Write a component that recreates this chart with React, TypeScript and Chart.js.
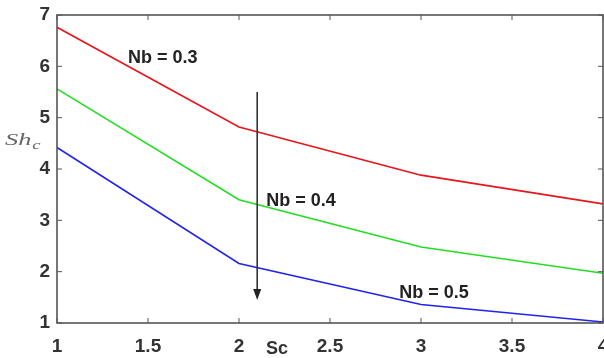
import React, { useEffect, useRef } from "react";
import { Chart, registerables } from "chart.js";

Chart.register(...registerables);

const scValues = [1, 2, 3, 4];
const nb03 = [6.76, 4.82, 3.88, 3.32];
const nb04 = [5.56, 3.4, 2.48, 1.97];
const nb05 = [4.42, 2.16, 1.36, 1.02];
const seriesNames = ["Nb = 0.3", "Nb = 0.4", "Nb = 0.5"];
const labelPos = [
  [1.39, 6.16],
  [2.15, 3.37],
  [2.88, 1.58],
];
const arrowX = 2.1;
const arrowFrom = 5.5;
const arrowTo = 1.45;
const xTicks = [1, 1.5, 2, 2.5, 3, 3.5, 4];
const yTicks = [1, 2, 3, 4, 5, 6, 7];

const decorPlugin = {
  id: "decor",
  afterDraw(chart: any) {
    const ctx = chart.ctx;
    const { left, right, top, bottom } = chart.chartArea;
    const xs = chart.scales.x;
    const ys = chart.scales.y;
    ctx.save();
    // box
    ctx.strokeStyle = "#555";
    ctx.lineWidth = 1.6;
    ctx.strokeRect(left, top, right - left, bottom - top);
    // inward ticks
    ctx.lineWidth = 1;
    xTicks.forEach((v) => {
      const px = xs.getPixelForValue(v);
      ctx.beginPath();
      ctx.moveTo(px, bottom);
      ctx.lineTo(px, bottom - 5);
      ctx.moveTo(px, top);
      ctx.lineTo(px, top + 5);
      ctx.stroke();
    });
    yTicks.forEach((v) => {
      const py = ys.getPixelForValue(v);
      ctx.beginPath();
      ctx.moveTo(left, py);
      ctx.lineTo(left + 5, py);
      ctx.moveTo(right, py);
      ctx.lineTo(right - 5, py);
      ctx.stroke();
    });
    // arrow
    const ax = xs.getPixelForValue(arrowX);
    const ay1 = ys.getPixelForValue(arrowFrom);
    const ay2 = ys.getPixelForValue(arrowTo);
    ctx.strokeStyle = "#333";
    ctx.fillStyle = "#222";
    ctx.lineWidth = 1.6;
    ctx.beginPath();
    ctx.moveTo(ax, ay1);
    ctx.lineTo(ax, ay2 - 10);
    ctx.stroke();
    ctx.beginPath();
    ctx.moveTo(ax - 4, ay2 - 11);
    ctx.lineTo(ax + 4, ay2 - 11);
    ctx.lineTo(ax, ay2);
    ctx.closePath();
    ctx.fill();
    // series labels
    ctx.fillStyle = "#222";
    ctx.font = "bold 18px 'Liberation Sans', Arial, sans-serif";
    ctx.textBaseline = "middle";
    ctx.textAlign = "left";
    seriesNames.forEach((name, i) => {
      ctx.fillText(name, xs.getPixelForValue(labelPos[i][0]), ys.getPixelForValue(labelPos[i][1]));
    });
    // x title
    ctx.fillStyle = "#333";
    ctx.font = "bold 18px 'Liberation Sans', Arial, sans-serif";
    ctx.textAlign = "center";
    ctx.fillText("Sc", 277, 349);
    // y title
    ctx.fillStyle = "#666";
    ctx.textAlign = "left";
    ctx.save();
    ctx.translate(5, 141);
    ctx.scale(1.55, 1);
    ctx.font = "italic 17px 'Liberation Serif', 'DejaVu Serif', serif";
    ctx.fillText("Sh", 0, 0);
    const w = ctx.measureText("Sh").width;
    ctx.font = "italic 12px 'Liberation Serif', 'DejaVu Serif', serif";
    ctx.fillText("c", w + 0.5, 5);
    ctx.restore();
    ctx.restore();
  },
};

export default function App() {
  const ref = useRef<HTMLCanvasElement | null>(null);
  useEffect(() => {
    document.body.style.margin = "0";
    const mk = (vals: number[]) => scValues.map((x, i) => ({ x, y: vals[i] }));
    const chart = new Chart(ref.current as HTMLCanvasElement, {
      type: "line",
      data: {
        datasets: [
          { label: seriesNames[0], data: mk(nb03), borderColor: "#e8141c", borderWidth: 1.6, pointRadius: 0, tension: 0 },
          { label: seriesNames[1], data: mk(nb04), borderColor: "#22dd22", borderWidth: 1.6, pointRadius: 0, tension: 0 },
          { label: seriesNames[2], data: mk(nb05), borderColor: "#2222ee", borderWidth: 1.6, pointRadius: 0, tension: 0 },
        ],
      },
      options: {
        animation: false,
        responsive: false,
        layout: { padding: { left: 0, top: 15, right: 1, bottom: 0 } },
        plugins: { legend: { display: false }, tooltip: { enabled: false } },
        scales: {
          x: {
            type: "linear",
            min: 1,
            max: 4,
            afterBuildTicks: (s: any) => {
              s.ticks = xTicks.map((v) => ({ value: v }));
            },
            afterFit: (s: any) => {
              s.height = 35;
              s.paddingLeft = 0;
              s.paddingRight = 0;
            },
            grid: { display: false, drawTicks: false },
            border: { display: false },
            ticks: {
              maxRotation: 0,
              autoSkip: false,
              padding: 12,
              color: "#333",
              callback: (v: any) => String(v),
              font: { family: "'Liberation Sans', Arial, sans-serif", size: 19, weight: "bold" },
            },
          },
          y: {
            type: "linear",
            min: 1,
            max: 7,
            afterBuildTicks: (s: any) => {
              s.ticks = yTicks.map((v) => ({ value: v }));
            },
            afterFit: (s: any) => {
              s.width = 57;
              s.paddingTop = 0;
              s.paddingBottom = 0;
            },
            grid: { display: false, drawTicks: false },
            border: { display: false },
            ticks: {
              padding: 7,
              color: "#333",
              callback: (v: any) => String(v),
              font: { family: "'Liberation Sans', Arial, sans-serif", size: 19, weight: "bold" },
            },
          },
        },
      },
      plugins: [decorPlugin],
    } as any);
    return () => chart.destroy();
  }, []);
  return <canvas ref={ref} width={604} height={358} style={{ display: "block" }} />;
}
